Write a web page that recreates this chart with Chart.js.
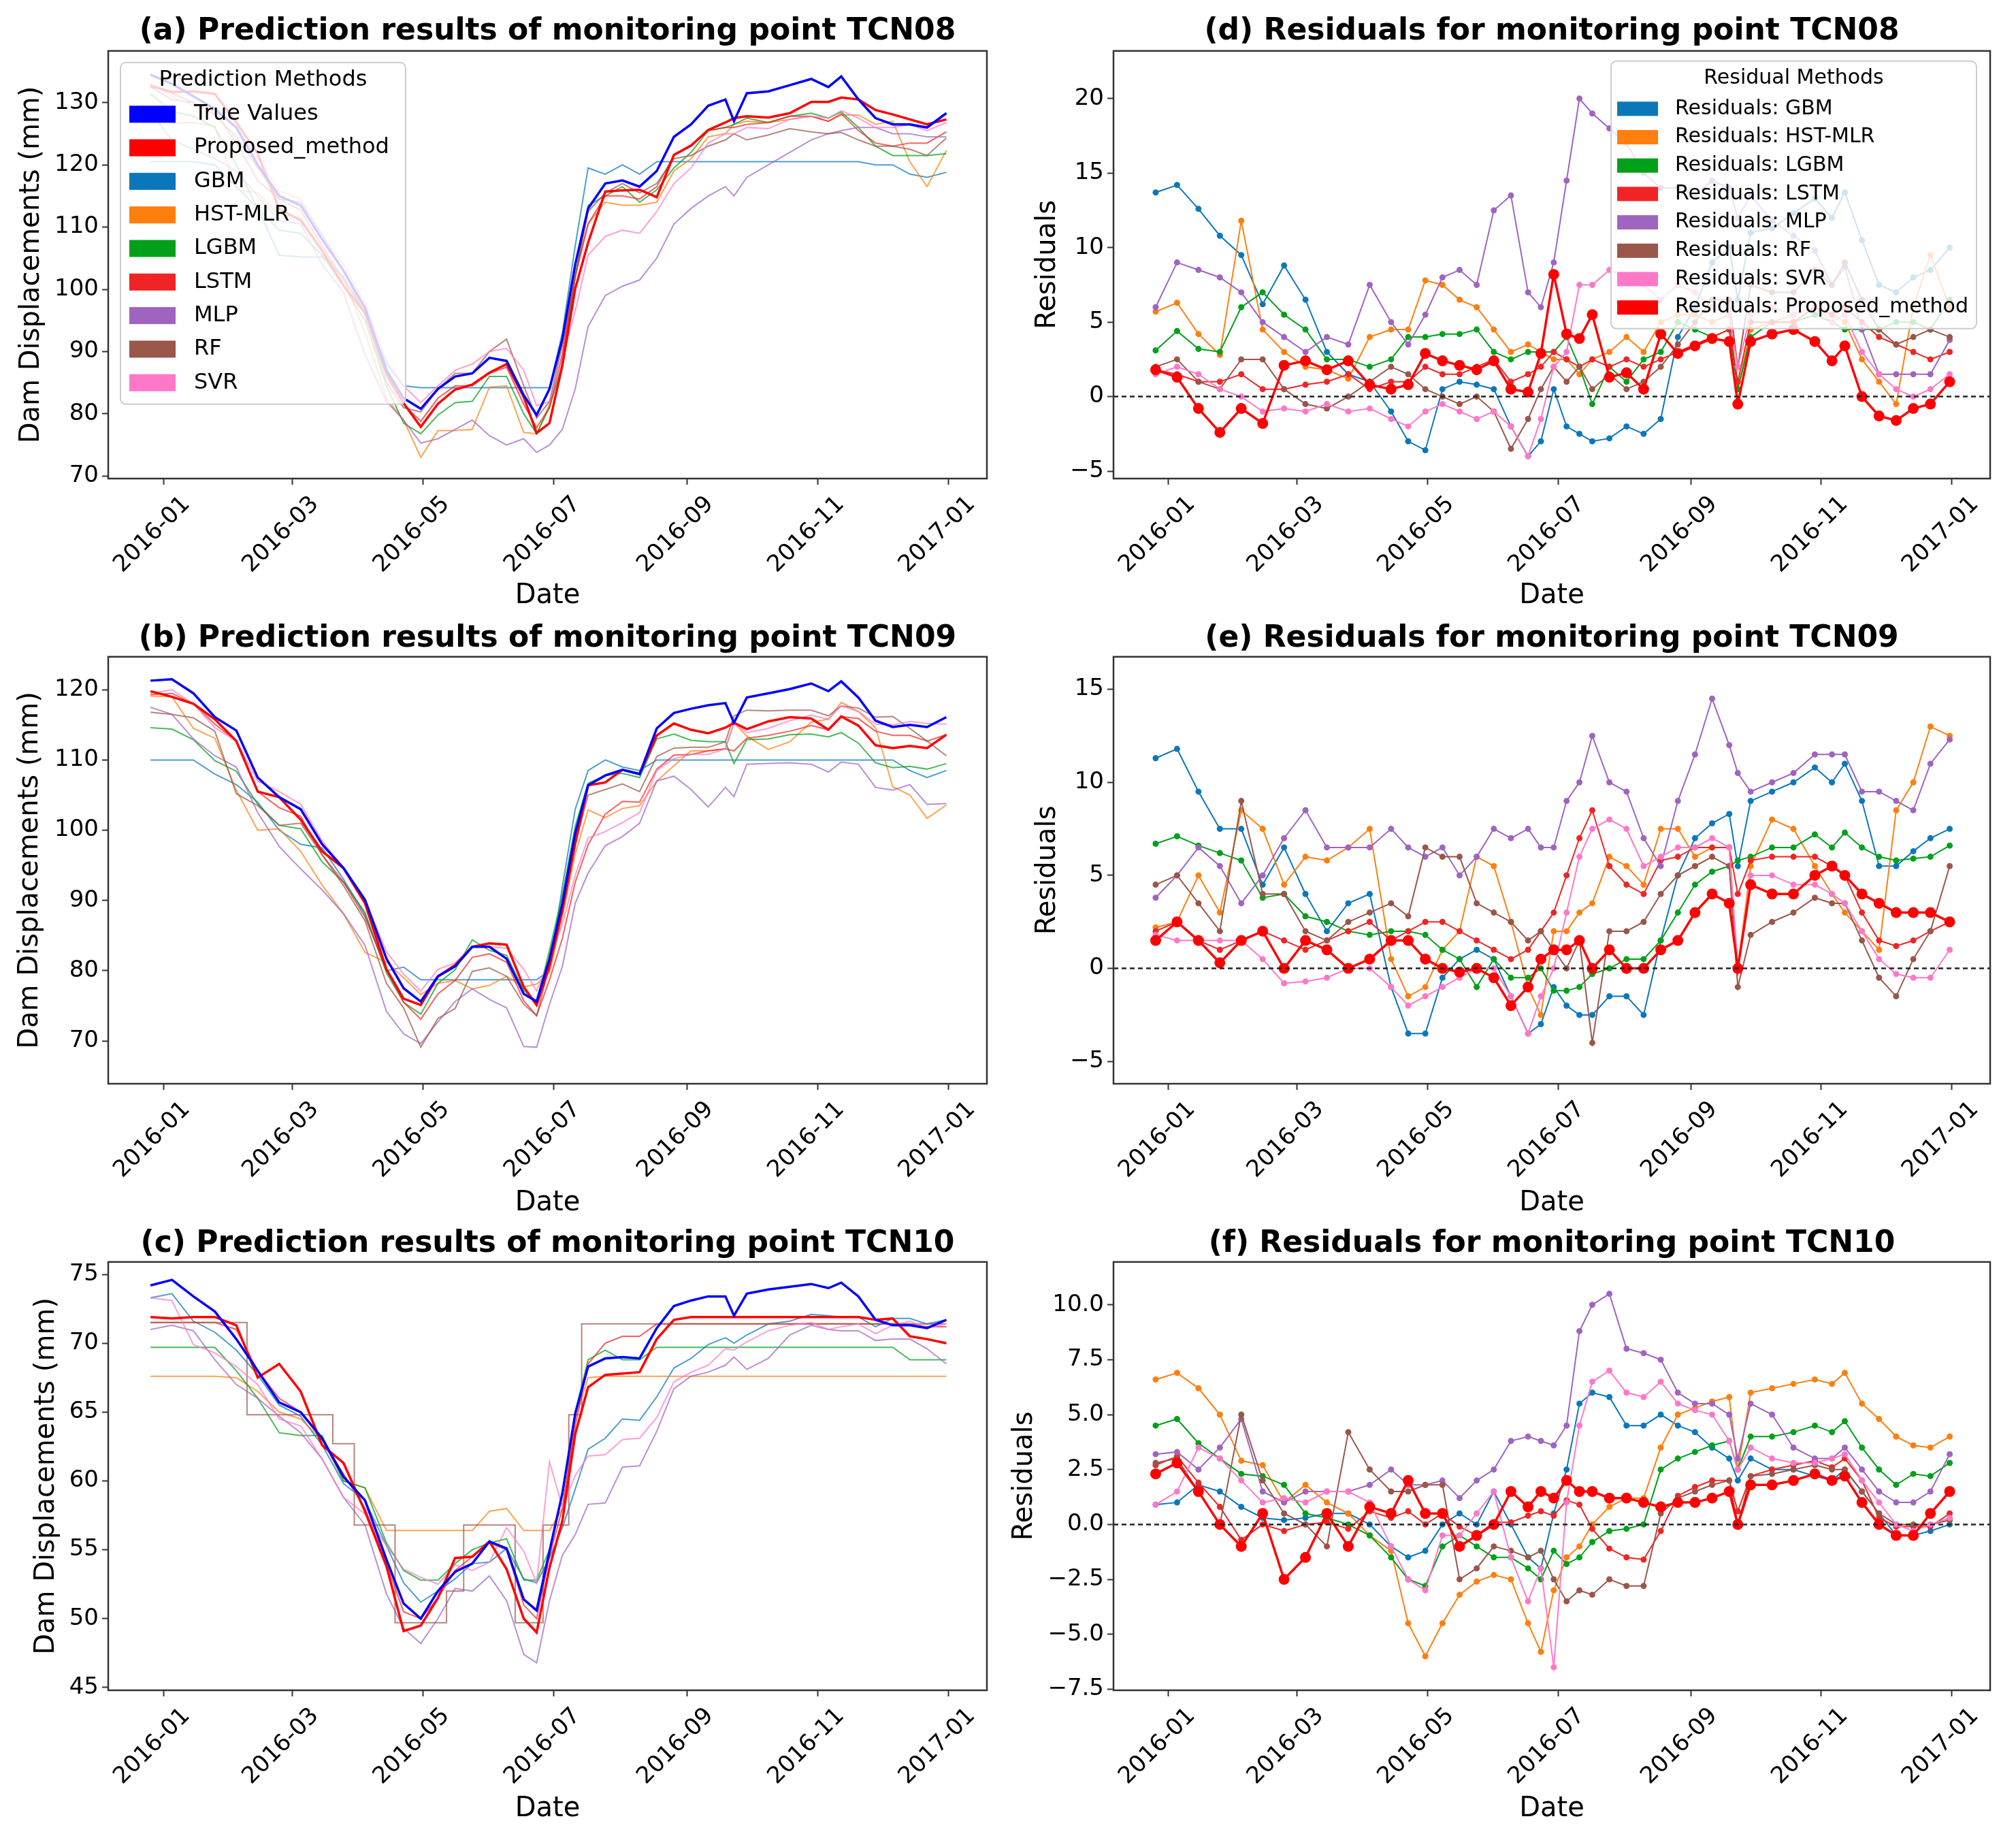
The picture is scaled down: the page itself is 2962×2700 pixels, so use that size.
<!DOCTYPE html>
<html>
<head>
<meta charset="utf-8">
<script src="https://cdn.jsdelivr.net/npm/chart.js@4.4.1/dist/chart.umd.min.js"></script>
<style>
  body { margin: 0; background: #fff; }
  #wrap { position: relative; width: 2962px; height: 2700px; }
  .panel { position: absolute; }
</style>
</head>
<body>
<div id="wrap">
  <div class="panel" style="left:0;top:0;width:1480px;height:900px"><canvas id="pa"></canvas></div>
  <div class="panel" style="left:1480px;top:0;width:1482px;height:900px"><canvas id="pd"></canvas></div>
  <div class="panel" style="left:0;top:900px;width:1480px;height:900px"><canvas id="pb"></canvas></div>
  <div class="panel" style="left:1480px;top:900px;width:1482px;height:900px"><canvas id="pe"></canvas></div>
  <div class="panel" style="left:0;top:1800px;width:1480px;height:900px"><canvas id="pc"></canvas></div>
  <div class="panel" style="left:1480px;top:1800px;width:1482px;height:900px"><canvas id="pf"></canvas></div>
</div>
<script>
// sample days, counted from 2016-01-01
const days = [-6,4,14,24,34,44,54,64,74,84,94,104,112,120,128,136,144,152,160,168,174,180,186,192,198,206,214,222,230,238,246,254,262,266,272,282,292,302,310,316,324,332,340,348,356,365];
const tickDays = [0, 60, 121, 182, 244, 305, 366];
const tickLabels = ['2016-01', '2016-03', '2016-05', '2016-07', '2016-09', '2016-11', '2017-01'];
const methodNames = ['GBM', 'HST-MLR', 'LGBM', 'LSTM', 'MLP', 'RF', 'SVR'];

// TCN08 predictions (mm)
const tcn08True = [134.5,133,131,129,126,120,115,113.5,108,103,97,87,82.5,80.8,84,86,86.5,89,88.5,83,79.8,84,92,104,113,117,117.5,116.5,119,124.5,126.5,129.5,130.5,127,131.5,131.8,132.8,133.8,132.5,134.2,130.5,127.5,126.5,126.5,126,128.3];
const tcn08Proposed = [132.7,131.7,131.8,131.4,126.8,121.8,112.9,111.1,106.2,100.6,96.2,86.5,81.7,77.9,81.6,83.9,84.7,86.6,88,82.7,76.9,78.5,87.8,100.1,107.5,115.7,115.9,116,114.8,121.6,123.1,125.6,126.8,127.5,127.8,127.6,128.3,130.1,130.1,130.8,130.5,128.8,128.1,127.3,126.5,127.3];
const tcn08GBM = [120.5,120.5,120.5,120,116.5,113,105.5,105.2,105.2,102,96,88,84.5,84.2,84.2,84.2,84.2,84.2,84.2,84.2,84.2,84.2,93,107,119.5,118.5,120,118.5,120.5,120.5,120.5,120.5,120.5,120.5,120.5,120.5,120.5,120.5,120.5,120.5,120.5,120,120,118.5,118,118.8];
const tcn08HST = [128.8,126.7,126.8,126.2,116,115.5,112,111.5,106.2,101.8,93,82.5,79,73,77.3,77.3,77.5,84.3,84.5,77,76.8,81.5,89.5,102.5,110.5,114,113.5,113.5,114,119,121,124.5,125,126.5,127,126.8,127.3,127.8,127,128,128,126.5,127,120.5,116.5,122.3];
const tcn08LGBM = [131.4,128.6,127.8,126,120,113,109.5,109,105.5,100.5,95,84.5,78.5,76.8,79.8,81.8,82,86,86,80,76.8,81,88,102,113.5,115,116.5,114,116,119.5,122,125.5,126,126.5,127.5,126.8,127.8,128.3,127.5,128.5,126,123,121.5,121.5,121.5,121.8];
const tcn08LSTM = [132.7,131.5,130,128,124.5,119.5,114.5,112.7,107,101.5,96.5,86,81.5,78.8,82.5,84.5,84.5,86.5,87.5,81.5,77.8,81,89.5,102,110.5,115,115,114.5,116.5,121.5,123,125.5,126,126,126.5,126.8,127.8,127.8,127,128.2,125.5,123.5,123,123.5,123.5,125.3];
const tcn08MLP = [128.5,124,122.5,121,119,115,111,110.5,104,99.5,89.5,82,79,75.3,76,77.5,79,76.5,75,76,73.8,75,77.5,84,94,99,100.5,101.5,105,110.5,113,115,116.5,115,118,120,122,124,125,125.5,126,126,125,125,124.5,124.5];
const tcn08RF = [132.5,130.5,130,128.5,123.5,117.5,114.5,114,108.8,103,96,85,81,80.3,84,86.5,86.5,90,92,84.5,79.3,82,91,102,112.5,115.5,117,115.5,117,121,121.5,123,124,125,124,124.8,125.8,125.3,125,125.2,124,123,123,122.5,121.5,124.3];
const tcn08SVR = [133,131,129.5,128.5,126,121,115.8,114.5,108.5,104,97.8,88.5,84.5,81.8,84.5,87,88,90,90.5,87,81.3,82,89,96.5,105.5,108.5,109.5,109,112.5,117,119.5,123.5,125,125,126,125.8,127.3,127.8,127.5,128.7,127.5,126,126,126.5,125.5,126.8];

// TCN08 residuals
const res08GBM = [13.7,14.2,12.6,10.8,9.5,6.2,8.8,6.5,3.0,1.5,1.0,-1.0,-3.0,-3.6,0.5,1.0,0.8,0.5,-2.0,-4.0,-3.0,0.5,-2.0,-2.5,-3.0,-2.8,-2.0,-2.5,-1.5,4.0,6.0,9.0,10.0,6.5,11.0,11.3,12.3,13.3,12.0,13.7,10.5,7.5,7.0,8.0,8.5,10.0];
const res08HST = [5.7,6.3,4.2,2.8,11.8,4.5,3.0,2.0,1.8,1.2,4.0,4.5,4.5,7.8,7.5,6.5,6.0,4.5,3.0,3.5,3.0,2.5,2.5,1.5,2.5,3.0,4.0,3.0,5.0,5.5,5.5,5.0,5.5,0.5,4.5,5.0,5.5,6.0,5.5,5.0,2.5,1.0,-0.5,6.0,9.5,6.0];
const res08LGBM = [3.1,4.4,3.2,3.0,6.0,7.0,5.5,4.5,2.5,2.5,2.0,2.5,4.0,4.0,4.2,4.2,4.5,3.0,2.5,3.0,3.0,3.0,4.0,2.0,-0.5,2.0,1.0,2.5,3.0,5.0,4.5,4.0,4.5,0.5,4.0,5.0,5.0,5.5,5.0,4.5,4.5,4.5,5.0,5.0,4.5,6.5];
const res08LSTM = [1.8,1.5,1.0,1.0,1.5,0.5,0.5,0.8,1.0,1.5,0.5,1.0,1.0,2.0,1.5,1.5,2.0,2.5,1.0,1.5,2.0,3.0,2.5,2.0,2.5,2.0,2.5,2.0,2.5,3.0,3.5,4.0,4.5,1.0,5.0,5.0,5.0,6.0,5.5,6.0,5.0,4.0,3.5,3.0,2.5,3.0];
const res08MLP = [6.0,9.0,8.5,8.0,7.0,5.0,4.0,3.0,4.0,3.5,7.5,5.0,3.5,5.5,8.0,8.5,7.5,12.5,13.5,7.0,6.0,9.0,14.5,20.0,19.0,18.0,17.0,15.0,14.0,14.0,13.5,14.5,14.0,12.0,13.5,11.8,10.8,9.8,7.5,8.7,4.5,1.5,1.5,1.5,1.5,3.8];
const res08RF = [2.0,2.5,1.0,0.5,2.5,2.5,0.5,-0.5,-0.8,0.0,1.0,2.0,1.5,0.5,0.0,-0.5,0.0,-1.0,-3.5,-1.5,0.5,2.0,1.0,2.0,0.5,1.5,0.5,1.0,2.0,3.5,5.0,6.5,6.5,2.0,7.5,7.0,7.0,8.5,7.5,9.0,6.5,4.5,3.5,4.0,4.5,4.0];
const res08SVR = [1.5,2.0,1.5,0.5,0.0,-1.0,-0.8,-1.0,-0.5,-1.0,-0.8,-1.5,-2.0,-1.0,-0.5,-1.0,-1.5,-1.0,-2.0,-4.0,-1.5,2.0,3.0,7.5,7.5,8.5,8.0,7.5,6.5,7.5,7.0,6.0,5.5,2.0,5.5,6.0,5.5,6.0,5.0,5.5,3.0,1.5,0.5,0.0,0.5,1.5];
const res08Proposed = [1.8,1.3,-0.8,-2.4,-0.8,-1.8,2.1,2.4,1.8,2.4,0.8,0.5,0.8,2.9,2.4,2.1,1.8,2.4,0.5,0.3,2.9,8.2,4.2,3.9,5.5,1.3,1.6,0.5,4.2,2.9,3.4,3.9,3.7,-0.5,3.7,4.2,4.5,3.7,2.4,3.4,0.0,-1.3,-1.6,-0.8,-0.5,1.0];

// TCN09 predictions (mm)
const tcn09True = [121.3,121.5,119.5,116.1,114.2,107.5,104.7,103,98,94.6,90.1,81.7,77.5,75.6,79.2,80.6,83.4,83.4,81.7,76.7,75.6,81.7,89.6,99.6,106.4,107.8,108.6,108,114.5,116.7,117.3,117.8,118.1,115.3,118.9,119.5,120.1,120.9,119.8,121.2,118.9,115.6,114.7,115,114.7,116.1];
const tcn09Proposed = [119.8,119,118,115.8,112.7,105.5,104.7,101.5,97,94.6,89.6,80.2,76,75.1,79.2,80.8,83.4,83.9,83.7,77.7,75.1,80.7,88.6,98.1,106.4,106.8,108.6,108,113.5,115.2,114.3,113.8,114.6,115.3,114.4,115.5,116.1,115.9,114.3,116.2,114.9,112.1,111.7,112,111.7,113.6];
const tcn09GBM = [110,110,110,108,106.5,104,100,98,97.5,93,88,80,80.5,78.7,78.7,78.7,78.7,78.7,78.7,78.7,78.7,80,92,103,108.5,110,109,108.5,110,110,110,110,110,110,110,110,110,110,110,110,110,110,110,108.5,107.5,108.5];
const tcn09HST = [119.1,119,114.5,113.1,105.7,100,100.2,97,92.2,88.1,82.6,81.2,79,76.6,78.2,78.6,77.4,77.9,79.2,77.7,78.1,79.7,87.6,96.6,102.9,101.8,103.1,103.5,107,109.2,111.3,111.3,111.6,115.3,113.4,111.5,112.6,115.4,115.8,118.2,116.9,114.6,106.2,105,101.7,103.6];
const tcn09LGBM = [114.6,114.4,112.9,109.9,108.4,103.7,100.7,100.2,95.5,92.6,88.3,79.7,75.5,73.8,78.2,80.1,84.4,82.9,82.2,77.2,75.6,82.9,90.8,100.6,106.7,107.8,108.1,107.5,113,113.7,112.8,112.6,112.6,109.5,112.9,113,113.6,113.7,113.3,113.9,112.4,109.6,108.9,109.1,108.7,109.5];
const tcn09LSTM = [119.3,119.5,118,115.1,112.7,105.5,103.2,102,96.5,92.6,87.6,80.2,75.5,73.1,76.7,78.6,81.9,82.4,81.2,75.7,73.6,78.7,84.6,92.6,97.9,102.3,104.1,104,108.7,110.7,110.8,111.3,111.6,111.3,113.1,113.5,114.1,114.9,114.3,116.2,115.9,114.1,113.5,113.5,112.7,113.6];
const tcn09MLP = [117.5,116.5,113,110.6,109,102.5,97.7,94.5,91.5,88.1,83.6,74.2,71,69.6,72.7,75.6,77.4,75.9,74.7,69.2,69.1,75.2,80.6,89.6,93.9,97.8,99.1,101,107,107.7,105.8,103.3,106.1,104.8,109.4,109.5,109.6,109.4,108.3,109.7,109.4,106.1,105.7,106.5,103.7,103.8];
const tcn09RF = [116.8,116.5,116,114.1,105.2,103.5,100.7,101,96.5,92.1,87.1,78.2,74.7,69.1,73.2,74.6,79.9,80.4,79.2,75.2,73.6,80.7,89.6,98.1,105,105.8,106.6,105.5,110.5,111.7,111.8,111.8,112.6,116.3,117.1,117,117.1,117.1,116.3,117.7,117.4,116.1,116.2,114.5,112.7,110.6];
const tcn09SVR = [119.5,120,118,114.6,112.7,107,105.5,103.7,98.5,94.6,90.1,82.7,79.5,77.1,80.2,81.1,83.4,83.4,83.2,80.2,77.1,81.7,86.6,93.6,98.9,99.8,101.1,102.5,108.5,110.2,110.8,110.8,111.6,115.3,113.9,114.5,115.6,116.4,115.8,117.7,116.9,115.1,115,115.5,115.2,115.1];

// TCN09 residuals
const res09GBM = [11.3,11.8,9.5,7.5,7.5,4.5,6.5,4.0,2.0,3.5,4.0,-1.0,-3.5,-3.5,-0.5,0.5,1.0,0.5,-1.5,-3.5,-3.0,-1.0,-2.0,-2.5,-2.5,-1.5,-1.5,-2.5,1.5,5.0,7.0,7.8,8.3,5.5,9.0,9.5,10.0,10.8,10.0,11.0,9.0,5.5,5.5,6.3,7.0,7.5];
const res09HST = [2.2,2.5,5.0,3.0,8.5,7.5,4.5,6.0,5.8,6.5,7.5,0.5,-1.5,-1.0,1.0,2.0,6.0,5.5,2.5,-1.0,-2.5,2.0,2.0,3.0,3.5,6.0,5.5,4.5,7.5,7.5,6.0,6.5,6.5,0.0,5.5,8.0,7.5,5.5,4.0,3.0,2.0,1.0,8.5,10.0,13.0,12.5];
const res09LGBM = [6.7,7.1,6.6,6.2,5.8,3.8,4.0,2.8,2.5,2.0,1.8,2.0,2.0,1.8,1.0,0.5,-1.0,0.5,-0.5,-0.5,0.0,-1.2,-1.2,-1.0,-0.3,0.0,0.5,0.5,1.5,3.0,4.5,5.2,5.5,5.8,6.0,6.5,6.5,7.2,6.5,7.3,6.5,6.0,5.8,5.9,6.0,6.6];
const res09LSTM = [2.0,2.5,1.5,1.0,1.5,2.0,1.5,1.0,1.5,2.0,2.5,1.5,2.0,2.5,2.5,2.0,1.5,1.0,0.5,1.0,2.0,3.0,5.0,7.0,8.5,5.5,4.5,4.0,5.8,6.0,6.5,6.5,6.5,4.0,5.8,6.0,6.0,6.0,5.5,5.0,3.0,1.5,1.2,1.5,2.0,2.5];
const res09MLP = [3.8,5.0,6.5,5.5,3.5,5.0,7.0,8.5,6.5,6.5,6.5,7.5,6.5,6.0,6.5,5.0,6.0,7.5,7.0,7.5,6.5,6.5,9.0,10.0,12.5,10.0,9.5,7.0,5.5,9.0,11.5,14.5,12.0,10.5,9.5,10.0,10.5,11.5,11.5,11.5,9.5,9.5,9.0,8.5,11.0,12.3];
const res09RF = [4.5,5.0,3.5,2.0,9.0,4.0,4.0,2.0,1.5,2.5,3.0,3.5,2.8,6.5,6.0,6.0,3.5,3.0,2.5,1.5,2.0,1.0,0.0,1.5,-4.0,2.0,2.0,2.5,4.0,5.0,5.5,6.0,5.5,-1.0,1.8,2.5,3.0,3.8,3.5,3.5,1.5,-0.5,-1.5,0.5,2.0,5.5];
const res09SVR = [1.8,1.5,1.5,1.5,1.5,0.5,-0.8,-0.7,-0.5,0.0,0.0,-1.0,-2.0,-1.5,-1.0,-0.5,0.0,0.0,-1.5,-3.5,-1.5,0.0,3.0,6.0,7.5,8.0,7.5,5.5,6.0,6.5,6.5,7.0,6.5,0.0,5.0,5.0,4.5,4.5,4.0,3.5,2.0,0.5,-0.3,-0.5,-0.5,1.0];
const res09Proposed = [1.5,2.5,1.5,0.3,1.5,2.0,0.0,1.5,1.0,0.0,0.5,1.5,1.5,0.5,0.0,-0.2,0.0,-0.5,-2.0,-1.0,0.5,1.0,1.0,1.5,0.0,1.0,0.0,0.0,1.0,1.5,3.0,4.0,3.5,0.0,4.5,4.0,4.0,5.0,5.5,5.0,4.0,3.5,3.0,3.0,3.0,2.5];

// TCN10 predictions (mm)
const tcn10True = [74.2,74.6,73.4,72.3,70.3,68,65.7,65,63.1,60.3,58.6,54.3,51.1,50,52,53.4,54,55.6,55.1,51.4,50.6,54.9,59.1,64.9,68.3,68.9,69,68.9,71.1,72.7,73.1,73.4,73.4,72,73.6,73.9,74.1,74.3,74,74.4,73.4,71.7,71.3,71.3,71.1,71.7];
const tcn10Proposed = [71.9,71.8,71.9,71.9,71.3,67.5,68.5,66.5,62.6,61.3,57.8,53.8,49.1,49.5,51.5,54.4,54.5,55.6,53.6,50,49,53.7,57.1,63.4,66.8,67.7,67.8,67.9,70.3,71.7,71.9,71.9,71.9,71.9,71.9,71.9,71.9,71.9,71.9,71.9,71.9,71.7,71.8,70.5,70.3,70.0];
const tcn10GBM = [73.3,73.6,71.6,70.8,69.5,67.7,65.5,64.7,62.6,59.8,58.6,55.3,52.6,51.2,52,52.9,54,54.1,55.1,52.9,52.6,54.4,56.6,59.4,62.3,63.1,64.5,64.4,66.1,68.2,68.9,69.9,70.4,70,70.6,71.4,71.6,72.1,72,71.9,71.9,71.2,71.8,71.8,71.4,71.7];
const tcn10HST = [67.6,67.6,67.6,67.6,67.5,66.5,65,64.5,63,60,59.5,56.4,56.4,56.4,56.4,56.4,56.4,57.8,58,56.4,56.4,56.4,58,64.5,67.5,67.6,67.6,67.6,67.6,67.6,67.6,67.6,67.6,67.6,67.6,67.6,67.6,67.6,67.6,67.6,67.6,67.6,67.6,67.6,67.6,67.6];
const tcn10LGBM = [69.7,69.7,69.7,69.7,68,66,63.5,63.3,63.3,60,59.5,55.5,53.5,52.8,52.8,54,55,55.5,55.8,52.8,52.8,55,59,65,68.8,69.5,68.8,68.8,69.7,69.7,69.7,69.7,69.7,69.7,69.7,69.7,69.7,69.7,69.7,69.7,69.7,69.7,69.7,68.8,68.8,68.8];
const tcn10LSTM = [71.5,71.5,71.5,71.5,71,68,66,65,63,60.5,58,54,50.5,50,51.5,53.5,54.5,55.5,55,51,50,54.5,58,64,68.5,70,70.5,70.5,71.4,71.4,71.4,71.4,71.4,71.4,71.4,71.4,71.4,71.4,71.4,71.4,71.4,71.4,71.4,71.4,71.2,71.2];
const tcn10MLP = [71,71.3,70.9,68.8,67,66,64.7,63.5,61.6,58.8,56.8,51.8,49.3,48.2,50,52.2,52,53.1,51.3,47.4,46.8,51.3,54.6,56.1,58.3,58.4,61,61.1,63.6,66.7,67.6,67.9,68.4,69,68.1,68.9,70.6,71.3,71,70.9,70.9,70.2,70.3,70.3,69.6,68.5];
const tcn10RF = [71.5,71.5,71.5,71.5,71.5,64.8,64.8,64.8,64.8,62.7,56.8,56.8,49.7,49.7,49.7,52,56.8,56.8,56.8,49.7,49.7,56.8,56.8,64.8,71.4,71.4,71.4,71.4,71.4,71.4,71.4,71.4,71.4,71.4,71.4,71.4,71.4,71.4,71.4,71.4,71.4,71.4,71.4,71.4,71.4,71.4];
const tcn10SVR = [73.3,73.1,69.9,69.3,68.3,67,64.5,64,61.6,58.8,57.6,55.3,53.6,53,52.5,53.9,53.5,54.1,56.6,54.9,52.6,61.4,58.1,60.4,61.8,61.9,63,63.1,64.6,67.2,67.9,68.4,69.6,69.5,70.1,70.9,71.3,71.5,71,71.2,71.4,70.7,71.3,71.6,71.1,71.4];

// TCN10 residuals
const res10GBM = [0.9,1.0,1.8,1.5,0.8,0.3,0.2,0.3,0.5,0.5,0.0,-1.0,-1.5,-1.2,0.0,0.5,0.0,1.5,0.0,-1.5,-2.0,0.5,2.5,5.5,6.0,5.8,4.5,4.5,5.0,4.5,4.2,3.5,3.0,2.0,3.0,2.5,2.5,2.2,2.0,2.5,1.5,0.5,-0.5,-0.5,-0.3,0.0];
const res10HST = [6.6,6.9,6.2,5.0,2.9,2.7,1.0,1.8,1.0,0.5,-0.5,-1.2,-4.5,-6.0,-4.5,-3.2,-2.6,-2.3,-2.5,-4.5,-5.8,-3.0,-1.5,-1.0,0.0,0.8,1.2,1.2,3.5,5.0,5.3,5.6,5.8,2.5,6.0,6.2,6.4,6.6,6.4,6.9,5.5,4.8,4.0,3.6,3.5,4.0];
const res10LGBM = [4.5,4.8,3.7,3.0,2.3,2.2,1.8,0.5,0.3,0.0,-0.5,-1.5,-2.5,-2.8,-1.0,-0.5,-1.0,-1.5,-1.5,-2.0,-2.5,-1.2,-1.8,-1.5,-0.8,-0.3,-0.2,0.0,2.5,3.0,3.3,3.6,3.8,2.5,4.0,4.0,4.2,4.5,4.2,4.7,3.5,2.5,1.8,2.3,2.2,2.8];
const res10LSTM = [2.7,3.1,1.9,0.8,-0.7,0.0,-0.3,0.0,0.1,-0.2,0.6,0.3,0.6,0.0,0.5,-0.1,-0.5,0.1,0.1,0.4,0.6,0.4,1.1,0.9,-0.2,-1.1,-1.5,-1.6,-0.3,1.3,1.7,2.0,2.0,0.6,2.2,2.5,2.7,2.9,2.6,3.0,2.0,0.3,-0.1,-0.1,-0.1,0.5];
const res10MLP = [3.2,3.3,2.5,3.5,4.8,1.5,1.0,1.5,1.5,1.5,1.8,2.5,1.8,1.8,2.0,1.2,2.0,2.5,3.8,4.0,3.8,3.6,4.5,8.8,10.0,10.5,8.0,7.8,7.5,6.0,5.5,5.5,5.0,3.0,5.5,5.0,3.5,3.0,3.0,3.5,2.5,1.5,1.0,1.0,1.5,3.2];
const res10RF = [2.8,3.0,1.5,0.0,5.0,2.0,0.5,0.0,-1.0,4.2,2.5,1.5,1.5,1.8,1.8,-2.5,-2.0,-1.0,-1.2,-1.5,-1.2,-2.5,-3.5,-3.0,-3.2,-2.5,-2.8,-2.8,0.5,1.2,1.5,1.8,2.0,0.0,2.2,2.3,2.5,2.7,2.5,2.5,1.5,0.5,0.0,0.0,0.0,0.2];
const res10SVR = [0.9,1.5,3.5,3.0,2.0,1.0,1.2,1.0,1.5,1.5,1.0,-1.0,-2.5,-3.0,-0.5,-0.5,0.5,1.5,-1.5,-3.5,-2.0,-6.5,1.0,4.5,6.5,7.0,6.0,5.8,6.5,5.5,5.2,5.0,3.8,2.5,3.5,3.0,2.8,2.8,3.0,3.2,2.0,1.0,0.0,-0.3,0.0,0.3];
const res10Proposed = [2.3,2.8,1.5,0.0,-1.0,0.5,-2.5,-1.5,0.5,-1.0,0.8,0.5,2.0,0.5,0.5,-1.0,-0.5,0.0,1.5,0.8,1.5,1.2,2.0,1.5,1.5,1.2,1.2,1.0,0.8,1.0,1.0,1.2,1.5,0.0,1.8,1.8,2.0,2.3,2.0,2.2,1.0,0.0,-0.5,-0.5,0.5,1.5];

const cTrue = '#0000ff';
const cProp = '#ff0000';
const methodColors = ['#0b77bb', '#ff7f0e', '#00a01a', '#f02424', '#9f64c0', '#9a5649', '#ff78c8'];

Chart.defaults.font.family = "'DejaVu Sans', sans-serif";
Chart.defaults.color = '#000';

function pts(arr) {
  return days.map((d, i) => ({ x: d, y: arr[i] }));
}

function fade(hex, a) {
  const n = parseInt(hex.slice(1), 16);
  return `rgba(${n >> 16},${(n >> 8) & 255},${n & 255},${a})`;
}

function minus(v, digits) {
  const s = digits ? Math.abs(v).toFixed(digits) : String(Math.abs(v));
  return v < 0 ? '\u2212' + s : s;
}

function predictionSets(trueArr, propArr, methods) {
  const sets = [
    { label: 'True Values', data: pts(trueArr), borderColor: cTrue, borderWidth: 3.5, order: 0, swatch: cTrue },
    { label: 'Proposed_method', data: pts(propArr), borderColor: cProp, borderWidth: 3.5, order: 1, swatch: cProp }
  ];
  methods.forEach((arr, i) => {
    sets.push({
      label: methodNames[i], data: pts(arr), borderColor: fade(methodColors[i], 0.72),
      borderWidth: 2, order: 10 - i, swatch: methodColors[i]
    });
  });
  sets.forEach(s => { s.pointRadius = 0; });
  return sets;
}

function residualSets(methods, propArr) {
  const sets = methods.map((arr, i) => ({
    label: 'Residuals: ' + methodNames[i], data: pts(arr),
    borderColor: methodColors[i], backgroundColor: methodColors[i],
    borderWidth: 2, pointRadius: 4.5, pointBorderWidth: 0, order: 10 - i, swatch: methodColors[i]
  }));
  sets.push({
    label: 'Residuals: Proposed_method', data: pts(propArr),
    borderColor: cProp, backgroundColor: cProp,
    borderWidth: 3.5, pointRadius: 8, pointBorderWidth: 0, order: 0, swatch: cProp
  });
  return sets;
}

// zero line, axes frame and boxed legend
const decor = {
  id: 'decor',
  afterDatasetsDraw(chart, args, o) {
    const { ctx, chartArea: a } = chart;
    ctx.save();
    if (o.zero) {
      const y0 = chart.scales.y.getPixelForValue(0);
      ctx.strokeStyle = '#222';
      ctx.lineWidth = 2.5;
      ctx.setLineDash([7, 5]);
      ctx.beginPath();
      ctx.moveTo(a.left, y0);
      ctx.lineTo(a.right, y0);
      ctx.stroke();
      ctx.setLineDash([]);
    }
    ctx.strokeStyle = '#333';
    ctx.lineWidth = 2.5;
    ctx.strokeRect(a.left, a.top, a.right - a.left, a.bottom - a.top);

    const lg = o.legend;
    if (lg) {
      const items = chart.data.datasets;
      ctx.font = `${lg.size}px 'DejaVu Sans'`;
      const textW = Math.max(...items.map(d => ctx.measureText(d.label).width));
      const w = lg.pad + lg.swW + lg.gap + textW + lg.padR;
      const x = lg.side === 'left' ? a.left + lg.dx : a.right - lg.dx - w;
      const y = a.top + lg.dy;
      ctx.beginPath();
      ctx.roundRect(x, y, w, lg.h, 8);
      ctx.fillStyle = 'rgba(255,255,255,0.8)';
      ctx.fill();
      ctx.strokeStyle = '#cccccc';
      ctx.lineWidth = 2;
      ctx.stroke();
      ctx.fillStyle = '#000';
      ctx.textBaseline = 'middle';
      ctx.textAlign = 'center';
      ctx.fillText(lg.title, x + w / 2, y + lg.titleY);
      ctx.textAlign = 'left';
      items.forEach((d, i) => {
        const yy = y + lg.firstY + i * lg.step;
        ctx.fillStyle = d.swatch;
        ctx.fillRect(x + lg.pad, yy - lg.swH / 2, lg.swW, lg.swH);
        ctx.fillStyle = '#000';
        ctx.fillText(d.label, x + lg.pad + lg.swW + lg.gap, yy);
      });
    }
    ctx.restore();
  }
};

const legendPred = { side: 'left', dx: 18, dy: 17, h: 502, titleY: 26, firstY: 76, step: 49.3,
  pad: 13, swW: 68, swH: 25, gap: 27, padR: 24, size: 32, title: 'Prediction Methods' };
const legendRes = { side: 'right', dx: 20, dy: 15, h: 393, titleY: 25, firstY: 70, step: 41.7,
  pad: 9, swW: 60, swH: 21, gap: 25, padR: 12, size: 30, title: 'Residual Methods' };

const rows = [
  { titlePad: { top: 20, bottom: 2 }, xHeight: 197, xTitlePad: 0 },
  { titlePad: { top: 12, bottom: 0 }, xHeight: 208, xTitlePad: 8 },
  { titlePad: { top: 1, bottom: 0 }, xHeight: 217, xTitlePad: 18 }
];

const tcn10Sets = predictionSets(tcn10True, tcn10Proposed, [tcn10GBM, tcn10HST, tcn10LGBM, tcn10LSTM, tcn10MLP, tcn10RF, tcn10SVR]);
tcn10Sets[7].stepped = 'middle';

const panels = [
  { id: 'pa', row: 0, left: true, title: '(a) Prediction results of monitoring point TCN08',
    sets: predictionSets(tcn08True, tcn08Proposed, [tcn08GBM, tcn08HST, tcn08LGBM, tcn08LSTM, tcn08MLP, tcn08RF, tcn08SVR]),
    yMin: 69.6, yMax: 138.3, yTicks: [70, 80, 90, 100, 110, 120, 130], yPad: 23, legend: legendPred },
  { id: 'pb', row: 1, left: true, title: '(b) Prediction results of monitoring point TCN09',
    sets: predictionSets(tcn09True, tcn09Proposed, [tcn09GBM, tcn09HST, tcn09LGBM, tcn09LSTM, tcn09MLP, tcn09RF, tcn09SVR]),
    yMin: 63.9, yMax: 124.7, yTicks: [70, 80, 90, 100, 110, 120], yPad: 21 },
  { id: 'pc', row: 2, left: true, title: '(c) Prediction results of monitoring point TCN10',
    sets: tcn10Sets,
    yMin: 44.8, yMax: 75.9, yTicks: [45, 50, 55, 60, 65, 70, 75], yPad: 45 },
  { id: 'pd', row: 0, left: false, title: '(d) Residuals for monitoring point TCN08',
    sets: residualSets([res08GBM, res08HST, res08LGBM, res08LSTM, res08MLP, res08RF, res08SVR], res08Proposed),
    yMin: -5.5, yMax: 23.2, yTicks: [-5, 0, 5, 10, 15, 20], yPad: 36, legend: legendRes },
  { id: 'pe', row: 1, left: false, title: '(e) Residuals for monitoring point TCN09',
    sets: residualSets([res09GBM, res09HST, res09LGBM, res09LSTM, res09MLP, res09RF, res09SVR], res09Proposed),
    yMin: -6.2, yMax: 16.75, yTicks: [-5, 0, 5, 10, 15], yPad: 36 },
  { id: 'pf', row: 2, left: false, title: '(f) Residuals for monitoring point TCN10',
    sets: residualSets([res10GBM, res10HST, res10LGBM, res10LSTM, res10MLP, res10RF, res10SVR], res10Proposed),
    yMin: -7.55, yMax: 11.95, yTicks: [-7.5, -5, -2.5, 0, 2.5, 5, 7.5, 10], digits: 1, yPad: 2 }
];

panels.forEach(p => {
  const r = rows[p.row];
  const leftW = p.left ? 159 : 156;
  new Chart(document.getElementById(p.id), {
    type: 'line',
    data: { datasets: p.sets },
    plugins: [decor],
    options: {
      responsive: true,
      maintainAspectRatio: false,
      devicePixelRatio: 1,
      animation: false,
      events: [],
      layout: { padding: { left: 0, top: 0, bottom: 0, right: p.left ? 30 : 38 } },
      elements: { line: { tension: 0 } },
      plugins: {
        legend: { display: false },
        tooltip: { enabled: false },
        title: {
          display: true, text: p.title, fullSize: false, color: '#000',
          font: { size: 44, weight: 'bold' }, padding: r.titlePad
        },
        decor: { zero: !p.left, legend: p.legend || null }
      },
      scales: {
        x: {
          type: 'linear', min: -25.7, max: 383.9,
          afterBuildTicks: s => { s.ticks = tickDays.map(v => ({ value: v })); },
          afterFit: s => { s.height = r.xHeight; },
          ticks: {
            autoSkip: false, maxRotation: 45, minRotation: 45, labelOffset: 34, padding: 9,
            font: { size: 34 }, color: '#000',
            callback: (v, i) => tickLabels[i]
          },
          grid: { display: true, drawOnChartArea: false, drawTicks: true, tickLength: 9, tickColor: '#333', tickWidth: 2 },
          border: { display: false },
          title: { display: true, text: 'Date', font: { size: 40 }, color: '#000', padding: { top: 0, bottom: r.xTitlePad } }
        },
        y: {
          min: p.yMin, max: p.yMax,
          afterBuildTicks: s => { s.ticks = p.yTicks.map(v => ({ value: v })); },
          afterFit: s => { s.width = leftW; },
          ticks: { font: { size: 34 }, color: '#000', padding: 5, callback: v => minus(v, p.digits) },
          grid: { display: true, drawOnChartArea: false, drawTicks: true, tickLength: 9, tickColor: '#333', tickWidth: 2 },
          border: { display: false },
          title: {
            display: true, text: p.left ? 'Dam Displacements (mm)' : 'Residuals',
            font: { size: 40 }, color: '#000', padding: { top: p.yPad, bottom: 0 }
          }
        }
      }
    }
  });
});
</script>
</body>
</html>
